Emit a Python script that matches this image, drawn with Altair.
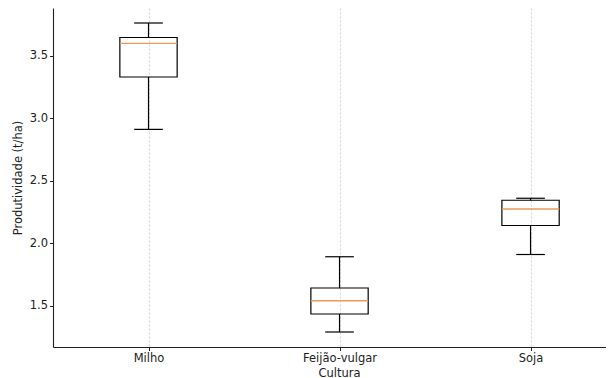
import altair as alt
import pandas as pd

culturas = ["Milho", "Feijão-vulgar", "Soja"]
posicoes = [1, 2, 3]
minimos = [2.911, 1.290, 1.910]
q1s = [3.330, 1.434, 2.142]
medianas = [3.599, 1.540, 2.274]
q3s = [3.646, 1.642, 2.344]
maximos = [3.762, 1.892, 2.360]
y_ticks = [1.5, 2.0, 2.5, 3.0, 3.5]

df = pd.DataFrame({
    "cultura": culturas,
    "pos": posicoes,
    "lo": minimos,
    "q1": q1s,
    "med": medianas,
    "q3": q3s,
    "hi": maximos,
})

FONT = "DejaVu Sans"
INK = "#222222"

label_expr = " : ".join(
    f"datum.value == {p} ? '{c}'" for p, c in zip(posicoes[:-1], culturas[:-1])
) + f" : '{culturas[-1]}'"

xscale = alt.Scale(domain=[0.5, 3.395], nice=False, zero=False)
yscale = alt.Scale(domain=[1.17, 3.882], nice=False, zero=False)

x_axis = alt.Axis(
    values=posicoes, labelExpr=label_expr, grid=True, gridDash=[2, 2],
    gridColor="#c8c8c8", gridWidth=0.8, tickSize=3.5, tickColor=INK,
    domainColor=INK, domainWidth=1.1, labelFont=FONT, labelFontSize=11.5,
    labelColor=INK, labelPadding=2, title="Cultura", titleFont=FONT,
    titleFontSize=11.5, titleFontWeight="normal", titleColor=INK,
    titleX=286, titleY=29, titleAlign="center", titleBaseline="alphabetic",
)
y_axis = alt.Axis(
    values=y_ticks, format=".1f", grid=False, tickSize=3.5, tickColor=INK,
    domainColor=INK, domainWidth=1.1, labelFont=FONT, labelFontSize=11.5,
    labelColor=INK, labelPadding=2, title="Produtividade (t/ha)",
    titleFont=FONT, titleFontSize=11.5, titleFontWeight="normal",
    titleColor=INK, titleX=-35, titleY=169.5, titleAngle=270,
    titleAlign="center", titleBaseline="middle",
)

base = alt.Chart(df).transform_calculate(
    xl="datum.pos - 0.15", xr="datum.pos + 0.15",
    cl="datum.pos - 0.075", cr="datum.pos + 0.075",
)

box = base.mark_rect(fillOpacity=0, stroke="black", strokeWidth=1.2).encode(
    x=alt.X("xl:Q", scale=xscale, axis=x_axis),
    x2="xr:Q",
    y=alt.Y("q1:Q", scale=yscale, axis=y_axis),
    y2="q3:Q",
)
whisk_lo = base.mark_rule(color="black", strokeWidth=1.2).encode(
    x=alt.X("pos:Q"), y=alt.Y("lo:Q"), y2="q1:Q",
)
whisk_hi = base.mark_rule(color="black", strokeWidth=1.2).encode(
    x=alt.X("pos:Q"), y=alt.Y("q3:Q"), y2="hi:Q",
)
cap_lo = base.mark_rule(color="black", strokeWidth=1.2).encode(
    x=alt.X("cl:Q"), x2="cr:Q", y=alt.Y("lo:Q"),
)
cap_hi = base.mark_rule(color="black", strokeWidth=1.2).encode(
    x=alt.X("cl:Q"), x2="cr:Q", y=alt.Y("hi:Q"),
)
median = base.mark_rule(color="#eb9a5a", strokeWidth=1.3).encode(
    x=alt.X("xl:Q"), x2="xr:Q", y=alt.Y("med:Q"),
)

chart = alt.layer(box, whisk_lo, whisk_hi, cap_lo, cap_hi, median).properties(
    width=553, height=339,
    autosize=alt.AutoSizeParams(type="none"),
    padding={"left": 45, "top": 0, "right": 0, "bottom": 34},
    background="white",
).configure_view(stroke=None)

chart.save("out.html", embed_options={"renderer": "svg", "actions": False})
